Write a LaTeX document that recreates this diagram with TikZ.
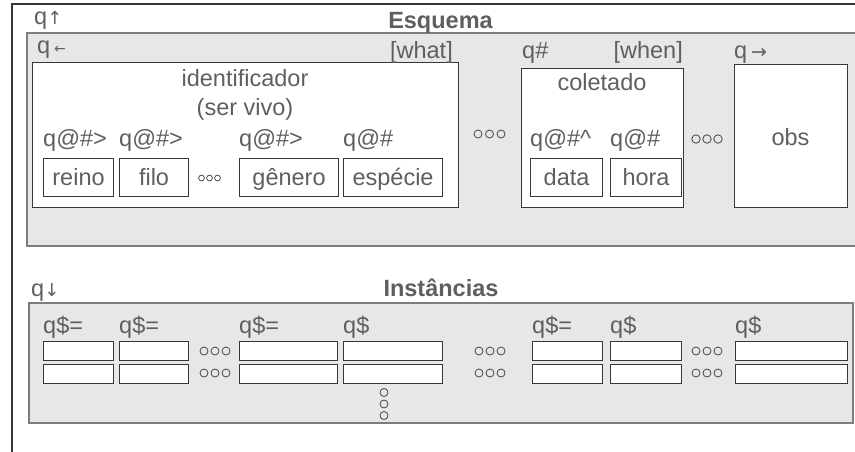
\documentclass[tikz,border=0pt]{standalone}
\usepackage{fontspec}
\setmainfont{Liberation Sans}
\newfontfamily\arrowfont{DejaVu Sans}
\definecolor{txtgray}{RGB}{95,95,95}
\definecolor{fillgray}{RGB}{230,231,233}
\definecolor{bordgray}{RGB}{125,125,125}
\definecolor{boxline}{RGB}{55,55,55}
\definecolor{dotcol}{RGB}{70,70,70}
\newcommand{\smarrow}[2]{{\arrowfont\fontsize{#1}{#1}\selectfont #2}}
\begin{document}
\begin{tikzpicture}[x=1pt,y=-1pt,
  lbl/.style={inner sep=0pt, text=txtgray, font=\fontsize{23.5}{28}\selectfont},
  ttl/.style={inner sep=0pt, text=txtgray, font=\fontsize{23.5}{28}\selectfont\bfseries},
  cell/.style={lbl, draw=boxline, line width=1.1pt, fill=white, anchor=north west,
    minimum height=38pt, text height=16pt, text depth=0pt},
  bigcell/.style={draw=boxline, line width=1.1pt, fill=white, anchor=north west, inner sep=0pt},
  icell/.style={draw=boxline, line width=1.1pt, fill=white, anchor=north west, inner sep=0pt,
    minimum height=19pt},
  graybox/.style={draw=bordgray, fill=fillgray, line width=2pt},
  frame/.style={draw=boxline, line width=1.1pt},
  dot/.style={draw=dotcol, line width=0.8pt}]
\useasboundingbox (0,0) rectangle (855,451);
\clip (0,0) rectangle (855,451);
\fill[white] (0,0) rectangle (855,451);
% outer frame
\draw[frame] (12,470) -- (12,4) -- (870,4);
% gray areas
\draw[graybox] (27,33) rectangle (870,246);
\draw[graybox] (29,303) rectangle (853,423);
% titles
\node[ttl, anchor=base] (esq) at (440.5,28) {Esquema};
\node[ttl, anchor=base] (inst) at (441,296) {Instâncias};
\node[lbl, anchor=base west] (qup) at (34,24) {q\smarrow{18}{↑}};
\node[lbl, anchor=base west] (qdown) at (31,296) {q\smarrow{18}{↓}};
% big boxes
\node[bigcell, minimum width=426pt, minimum height=145pt] (ident) at (32,62) {};
\node[bigcell, minimum width=162pt, minimum height=139pt] (colet) at (521,68) {};
\node[bigcell, minimum width=113pt, minimum height=143pt] (obsbox) at (734,64) {};
\node[lbl, anchor=base west] (qleft) at (37,53) {q\,\smarrow{14}{←}};
\node[lbl, anchor=base east] (what) at (453,58) {[what]};
\node[lbl, anchor=base west] (qhash) at (522,58) {q\#};
\node[lbl, anchor=base east] (when) at (683,58) {[when]};
\node[lbl, anchor=base west] (qright) at (734,58) {q\,\smarrow{19}{→}};
\node[lbl, anchor=base] (identt) at (245,86) {identificador};
\node[lbl, anchor=base] (servivo) at (245,115) {(ser vivo)};
\node[lbl, anchor=base] (colett) at (602,90) {coletado};
\node[lbl, anchor=base] (obst) at (790.5,145) {obs};
% sub labels
\node[lbl, anchor=base west] (l1) at (43,146) {q@\#>};
\node[lbl, anchor=base west] (l2) at (119,146) {q@\#>};
\node[lbl, anchor=base west] (l3) at (239,146) {q@\#>};
\node[lbl, anchor=base west] (l4) at (343,146) {q@\#};
\node[lbl, anchor=base west] (l5) at (530,146) {q@\#\textasciicircum};
\node[lbl, anchor=base west] (l6) at (610,146) {q@\#};
% cells
\node[cell, minimum width=70pt] (reino) at (43,158) {reino};
\node[cell, minimum width=69pt] (filo) at (119,158) {filo};
\node[cell, minimum width=99pt] (genero) at (239,158) {gênero};
\node[cell, minimum width=99pt] (especie) at (343,158) {espécie};
\node[cell, minimum width=72pt] (data) at (530,158) {data};
\node[cell, minimum width=71pt] (hora) at (610,158) {hora};
% dots in schema
\foreach \x in {201.5,209.5,217.5} \draw[dot] (\x,178) circle[radius=2.9pt];
\foreach \x in {478,489.5,501} \draw[dot] (\x,134) circle[radius=4pt];
\foreach \x in {696,707,718} \draw[dot] (\x,139) circle[radius=4.2pt];
% instance labels
\node[lbl, anchor=base west] (i1) at (43,333) {q\$=};
\node[lbl, anchor=base west] (i2) at (119,333) {q\$=};
\node[lbl, anchor=base west] (i3) at (239,333) {q\$=};
\node[lbl, anchor=base west] (i4) at (343,333) {q\$};
\node[lbl, anchor=base west] (i5) at (532,333) {q\$=};
\node[lbl, anchor=base west] (i6) at (610,333) {q\$};
\node[lbl, anchor=base west] (i7) at (735,333) {q\$};
% instance cells
\foreach \xa/\w/\n in {43/70/1,119/69/2,239/98/3,343/99/4,532/70/5,610/71/6,735/112/7}{
  \node[icell, minimum width=\w pt] (ra\n) at (\xa,341) {};
  \node[icell, minimum width=\w pt] (rb\n) at (\xa,364) {};
}
\foreach \y in {351,373}{
  \foreach \x in {204,215,226} \draw[dot] (\x,\y) circle[radius=4pt];
  \foreach \x in {479,490,501} \draw[dot] (\x,\y) circle[radius=4pt];
  \foreach \x in {696,707,718} \draw[dot] (\x,\y) circle[radius=4pt];
}
\foreach \y in {392.5,404,415.5} \draw[dot] (384,\y) circle[radius=4pt];
\end{tikzpicture}
\end{document}
